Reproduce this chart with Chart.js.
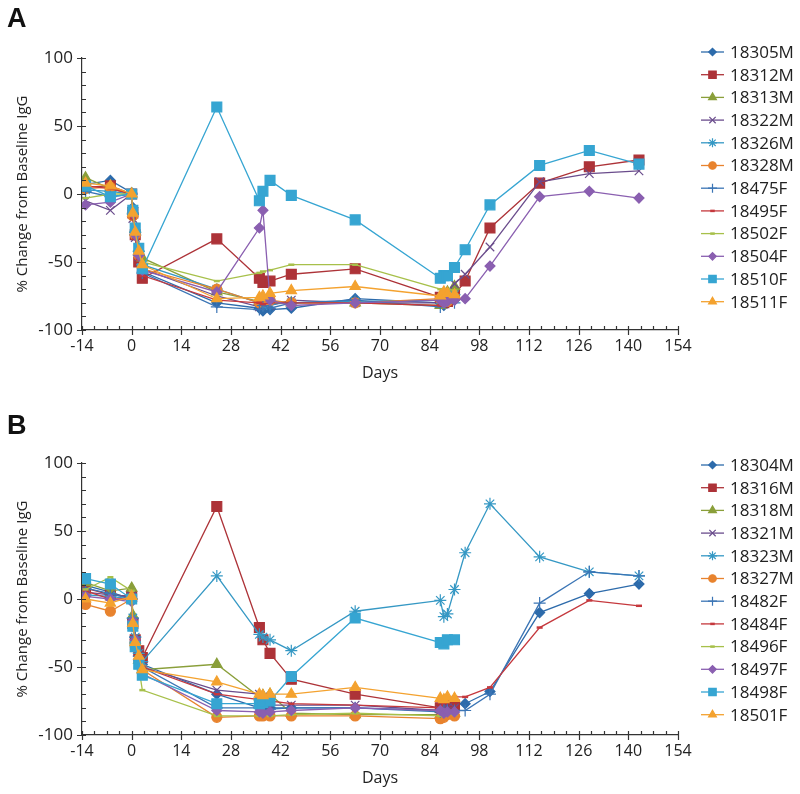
<!DOCTYPE html>
<html>
<head>
<meta charset="utf-8">
<script src="https://cdn.jsdelivr.net/npm/chart.js"></script>
<style>
  html, body { margin: 0; padding: 0; background: #fff; }
  canvas { display: block; }
</style>
</head>
<body>
<canvas id="chartA" width="800" height="397"></canvas>
<canvas id="chartB" width="800" height="397"></canvas>
<script>
// sampling days (same schedule for both panels)
const days = [-13, -6, 0, 0.33, 1, 2, 3, 24, 36, 37, 39, 45, 63, 87, 88, 89, 91, 94, 101, 115, 129, 143];

const xTicks = [-14, 0, 14, 28, 42, 56, 70, 84, 98, 112, 126, 140, 154];
const yTicks = [-100, -50, 0, 50, 100];

// panel A animals
const namesA = ['18305M', '18312M', '18313M', '18322M', '18326M', '18328M',
                '18475F', '18495F', '18502F', '18504F', '18510F', '18511F'];
const a18305M = [7, 10, 1, -10, -28, -45, -57, -80, -84, -86, -85, -84, -77, -80, -82, -80, -78, null, null, null, null, null];
const a18312M = [5, 6, 0, -14, -30, -50, -62, -33, -62, -65, -64, -59, -55, -76, -80, -79, -74, -64, -25, 8, 20, 25];
const a18313M = [12, 4, 0, -12, -26, -40, -47, -72, -79, -78, -79, -80, -80, -82, -78, -72, -68, null, null, null, null, null];
const a18322M = [-5, -12, 0, -18, -32, -46, -55, -75, -83, -80, -82, -78, -80, -80, -78, -72, -66, -59, -39, 9, 15, 17];
const a18326M = [3, 2, 0, -14, -28, -42, -52, -70, -80, -82, -81, -80, -79, -78, -76, -75, -74, null, null, null, null, null];
const a18328M = [4, 5, 0, -16, -30, -45, -55, -70, -80, -79, -78, -80, -80, -77, -74, -79, -76, null, null, null, null, null];
const a18475F = [2, -2, 0, -15, -30, -45, -58, -83, -85, -82, -84, -80, -78, -83, -80, -78, -80, null, null, null, null, null];
const a18495F = [6, 4, 0, -18, -33, -48, -60, -78, -80, -81, -80, -80, -80, -82, -80, -78, -79, null, null, null, null, null];
const a18502F = [-3, 0, 0, -15, -28, -40, -50, -64, -58, -57, -56, -52, -52, -70, -72, -70, -71, null, null, null, null, null];
const a18504F = [-8, -6, 0, -14, -30, -45, -56, -72, -25, -12, -78, -82, -80, -78, -80, -79, -78, -77, -53, -2, 2, -3];
const a18510F = [6, -2, 0, -12, -25, -40, -55, 64, -5, 2, 10, -1, -19, -62, -60, -60, -54, -41, -8, 21, 32, 22];
const a18511F = [8, 6, 0, -14, -28, -42, -52, -77, -76, -75, -73, -71, -68, -75, -72, -73, -74, null, null, null, null, null];
const valuesA = [a18305M, a18312M, a18313M, a18322M, a18326M, a18328M,
                 a18475F, a18495F, a18502F, a18504F, a18510F, a18511F];

// panel B animals
const namesB = ['18304M', '18316M', '18318M', '18321M', '18323M', '18327M',
                '18482F', '18484F', '18496F', '18497F', '18498F', '18501F'];
const b18304M = [10, 5, 0, -15, -30, -42, -48, -70, -80, -81, -80, -80, -80, -82, -80, -78, -77, -77, -68, -10, 4, 11];
const b18316M = [8, 3, 2, -18, -30, -38, -43, 68, -21, -30, -40, -59, -70, -80, -80, -80, -78, null, null, null, null, null];
const b18318M = [12, 6, 8, -12, -30, -45, -52, -48, -72, -71, -70, -84, -85, -85, -84, -84, -84, null, null, null, null, null];
const b18321M = [5, 3, 2, -18, -30, -42, -50, -67, -70, -72, -78, -78, -78, -82, -80, -80, -80, null, null, null, null, null];
const b18323M = [3, 2, 0, -14, -28, -40, -46, 17, -26, -28, -30, -38, -9, -1, -13, -11, 7, 34, 70, 31, 20, 17];
const b18327M = [-4, -9, 0, -20, -35, -45, -52, -87, -86, -86, -86, -86, -86, -88, -87, -85, -86, null, null, null, null, null];
const b18482F = [8, 4, 0, -14, -28, -42, -50, -80, -80, -82, -81, -80, -80, -83, -82, -82, -82, -82, -70, -3, 20, 17];
const b18484F = [6, 0, 0, -18, -33, -45, -50, -70, -74, -75, -75, -77, -78, -80, -76, -74, -72, -72, -65, -21, -1, -5];
const b18496F = [7, 16, 6, -15, -30, -50, -67, -86, -86, -85, -86, -85, -84, -86, -86, -84, -85, null, null, null, null, null];
const b18497F = [2, 0, -2, -16, -30, -45, -55, -82, -83, -84, -83, -82, -80, -82, -84, -83, -83, null, null, null, null, null];
const b18498F = [15, 11, 0, -20, -35, -48, -56, -77, -77, -76, -75, -57, -14, -32, -33, -30, -30, null, null, null, null, null];
const b18501F = [0, -3, 2, -18, -32, -42, -52, -61, -70, -71, -70, -70, -65, -73, -74, -72, -73, null, null, null, null, null];
const valuesB = [b18304M, b18316M, b18318M, b18321M, b18323M, b18327M,
                 b18482F, b18484F, b18496F, b18497F, b18498F, b18501F];

// marker look, one entry per series slot (same in both panels)
const seriesColors = ['#2d6bab', '#ad3338', '#8a9f3a', '#6a4c8c', '#3598c4', '#e8832e',
                      '#3b75b5', '#c5383d', '#a7c04a', '#8a5fb0', '#36a5d2', '#f4a22f'];
const markerShapes = ['rectRot', 'rect', 'triangle', 'crossRot', 'star', 'circle',
                      'cross', 'line', 'line', 'rectRot', 'rect', 'triangle'];
const markerSizes = [5, 7, 6, 6, 6, 5, 6, 3, 3, 5, 7, 6];

Chart.defaults.font.family = '"Open Sans", "DejaVu Sans", sans-serif';
Chart.defaults.color = '#222';

function drawMarker(ctx, shape, r, x, y, color) {
    ctx.fillStyle = color;
    ctx.strokeStyle = color;
    ctx.lineWidth = shape == 'line' ? 2.5 : 1.2;
    Chart.helpers.drawPoint(ctx, {pointStyle: shape, rotation: 0, radius: r, borderWidth: ctx.lineWidth}, x, y);
}

// ticks, panel letter and legend
const decorations = {
    id: 'decorations',
    afterDraw(chart, args, opts) {
        const ctx = chart.ctx, xs = chart.scales.x, ys = chart.scales.y;
        const area = chart.chartArea;
        ctx.save();
        ctx.strokeStyle = '#333';
        ctx.lineWidth = 1.2;
        ctx.beginPath();
        for (let d = xTicks[0]; d <= xTicks[xTicks.length - 1] + 0.01; d += 3.5) {
            const px = Math.round(xs.getPixelForValue(d)) + 0.5;
            const major = Math.abs(d % 14) < 0.01;
            ctx.moveTo(px, area.bottom - 4);
            ctx.lineTo(px, area.bottom + (major ? 5 : 0));
        }
        for (let v = yTicks[0]; v <= yTicks[yTicks.length - 1] + 0.01; v += 10) {
            const py = Math.round(ys.getPixelForValue(v)) + 0.5;
            const major = Math.abs(v % 50) < 0.01;
            ctx.moveTo(area.left + 4, py);
            ctx.lineTo(area.left - (major ? 5 : 0), py);
        }
        ctx.stroke();

        ctx.fillStyle = '#111';
        ctx.font = 'bold 27px "Liberation Sans", Arial, sans-serif';
        ctx.textBaseline = 'alphabetic';
        ctx.fillText(opts.letter, 7, opts.letterY);

        ctx.font = '17px "Open Sans", sans-serif';
        ctx.textBaseline = 'middle';
        opts.names.forEach(function (name, i) {
            const ly = opts.legendTop + i * 22.7;
            ctx.strokeStyle = seriesColors[i];
            ctx.lineWidth = 1.3;
            ctx.beginPath();
            ctx.moveTo(701, ly);
            ctx.lineTo(724, ly);
            ctx.stroke();
            drawMarker(ctx, markerShapes[i], markerSizes[i] * 0.75, 712.5, ly, seriesColors[i]);
            ctx.fillStyle = '#222';
            ctx.fillText(name, 730, ly + 1);
        });
        ctx.restore();
    }
};

function makeChart(id, names, values, top, bottom, letter, letterY, legendTop) {
    const H = 397;
    const datasets = names.map(function (name, i) {
        const pts = [];
        values[i].forEach(function (v, j) {
            if (v !== null) pts.push({x: days[j], y: v});
        });
        return {
            label: name,
            data: pts,
            borderColor: seriesColors[i],
            backgroundColor: seriesColors[i],
            borderWidth: 1.3,
            pointStyle: markerShapes[i],
            pointRadius: markerSizes[i],
            pointBorderWidth: markerShapes[i] == 'line' ? 2.5 : 1.2,
            pointBackgroundColor: seriesColors[i],
            pointBorderColor: seriesColors[i],
            tension: 0,
            order: names.length - i
        };
    });
    return new Chart(document.getElementById(id), {
        type: 'line',
        data: { datasets: datasets },
        options: {
            responsive: false,
            animation: false,
            devicePixelRatio: 1,
            layout: { padding: { top: top, right: 122, left: 0, bottom: 0 } },
            plugins: {
                legend: { display: false },
                tooltip: { enabled: false },
                decorations: { letter: letter, letterY: letterY, names: names, legendTop: legendTop }
            },
            scales: {
                x: {
                    type: 'linear',
                    min: xTicks[0], max: xTicks[xTicks.length - 1],
                    afterBuildTicks: function (s) { s.ticks = xTicks.map(function (v) { return {value: v}; }); },
                    afterFit: function (s) { s.height = H - bottom; },
                    grid: { display: false, drawTicks: false },
                    border: { display: true, color: '#333', width: 1.2 },
                    ticks: { padding: 7, font: { size: 16 }, color: '#222', maxRotation: 0 },
                    title: { display: true, text: 'Days', font: { size: 16 }, color: '#222',
                             padding: { top: 0, bottom: H - bottom - 43 - 10 } }
                },
                y: {
                    min: yTicks[0], max: yTicks[yTicks.length - 1],
                    afterBuildTicks: function (s) { s.ticks = yTicks.map(function (v) { return {value: v}; }); },
                    afterFit: function (s) { s.width = 82; },
                    grid: { display: false, drawTicks: false },
                    border: { display: true, color: '#333', width: 1.2 },
                    ticks: { padding: 9, font: { size: 17 }, color: '#222' },
                    title: { display: true, text: '% Change from Baseline IgG', font: { size: 15 }, color: '#222',
                             padding: { top: 14, bottom: 0 } }
                }
            }
        },
        plugins: [decorations]
    });
}

makeChart('chartA', namesA, valuesA, 58, 330, 'A', 27, 52);
makeChart('chartB', namesB, valuesB, 66, 338, 'B', 37, 68);
</script>
</body>
</html>
